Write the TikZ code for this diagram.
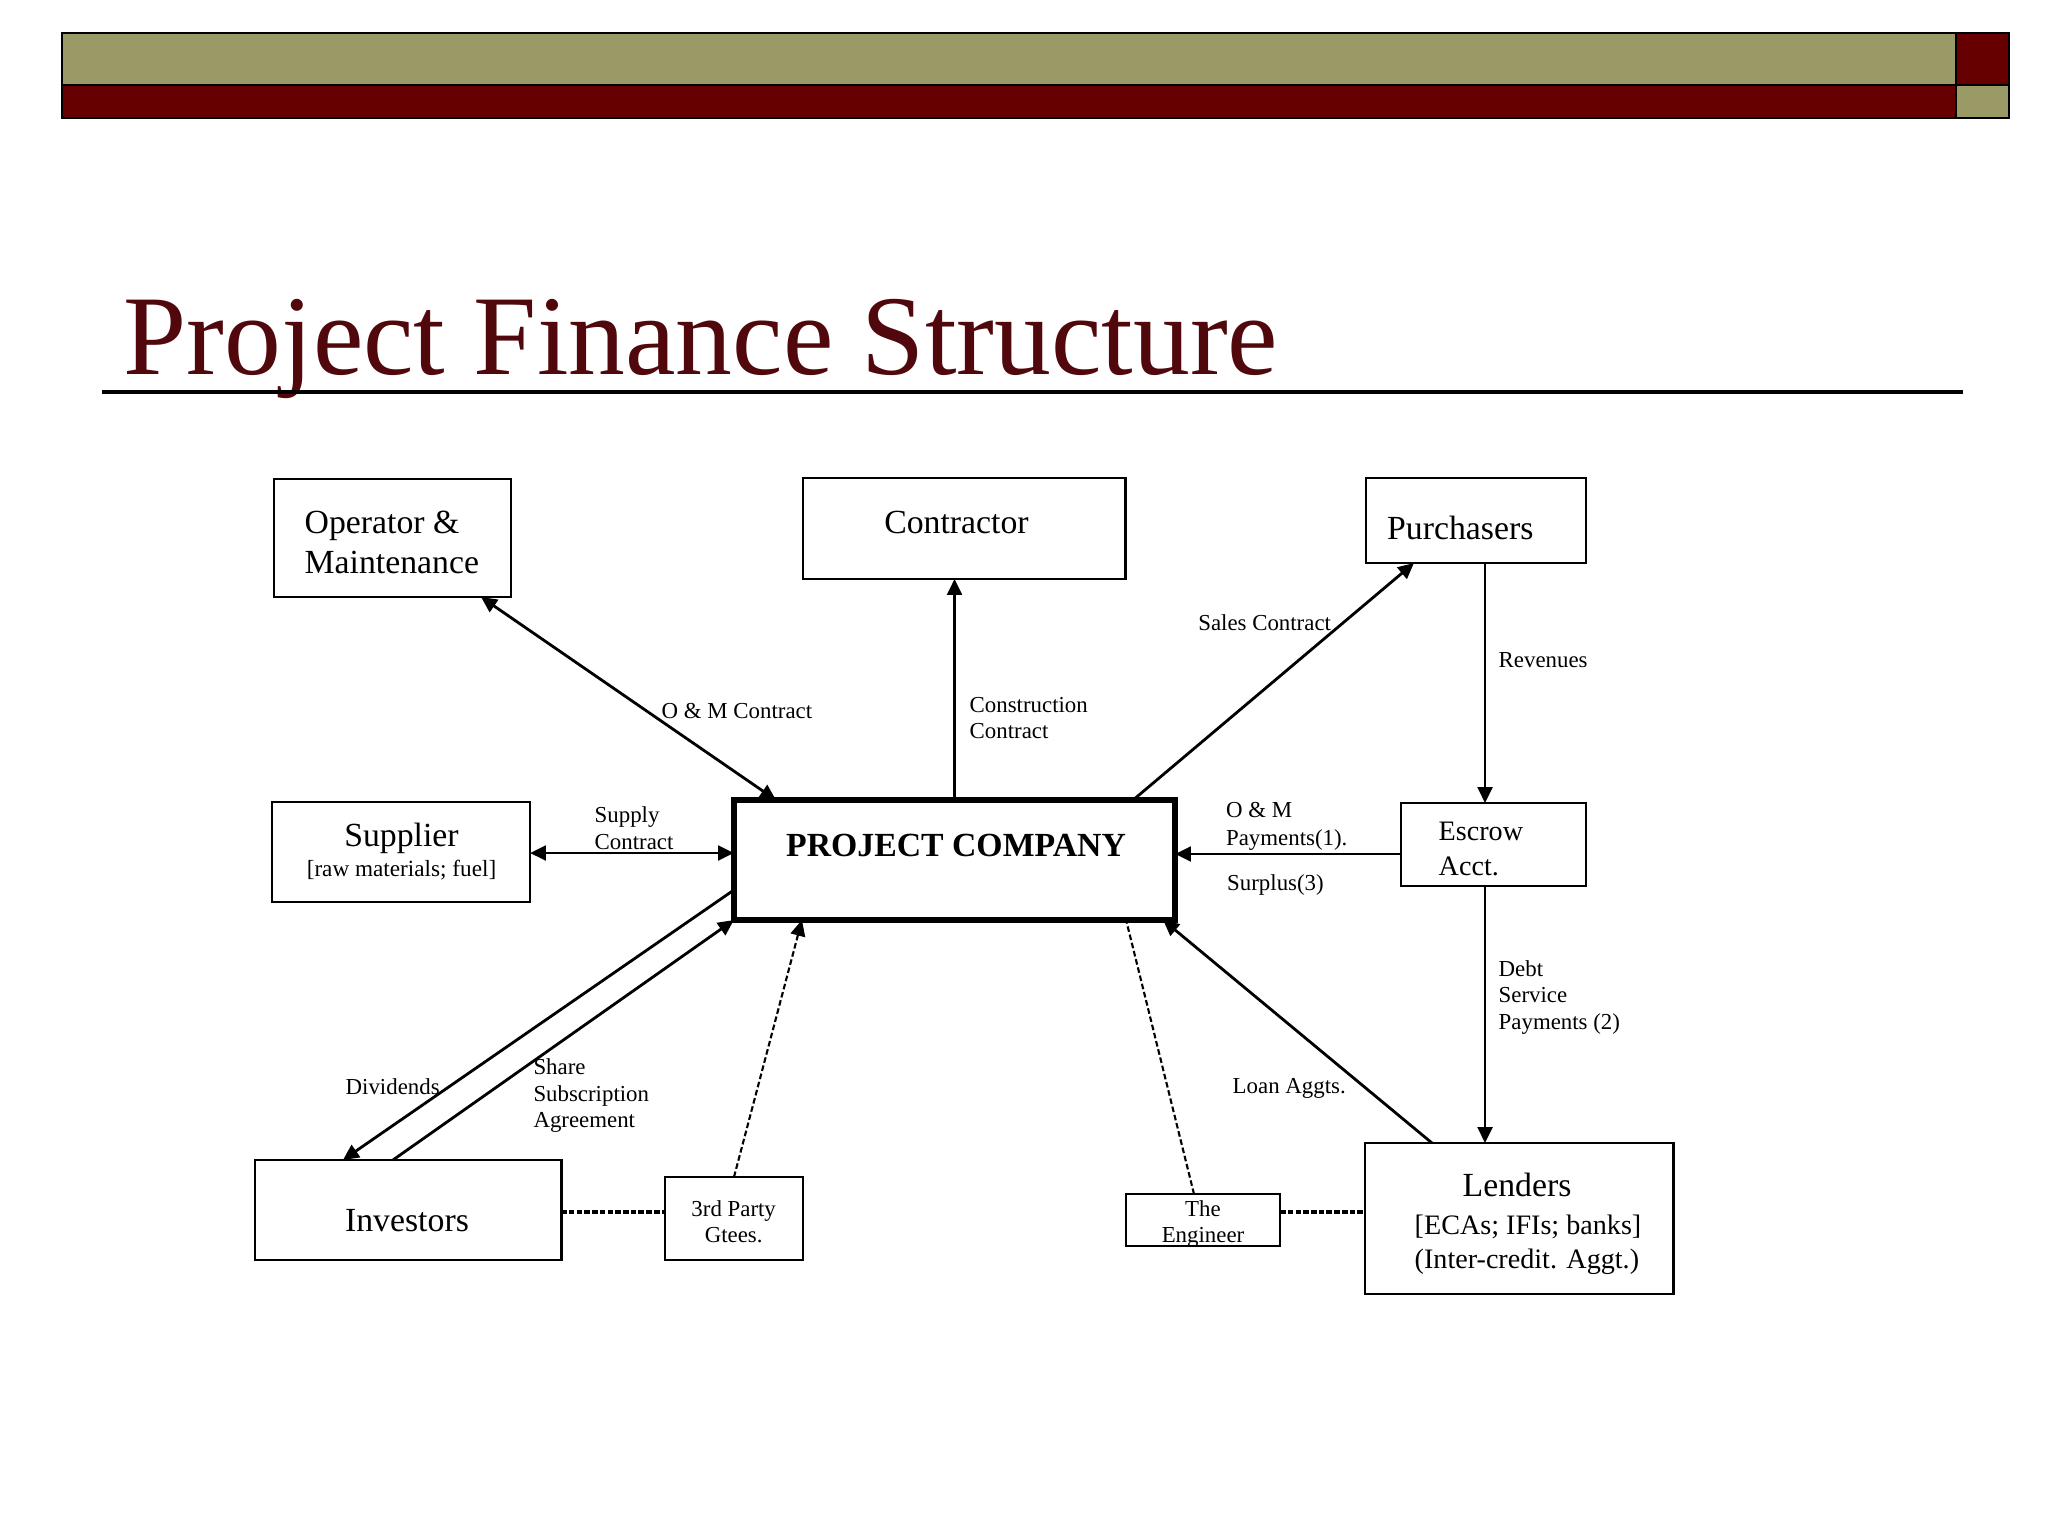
\documentclass[tikz,border=0pt]{standalone}
\usepackage{fontspec}
\setmainfont{Liberation Serif}
\usetikzlibrary{arrows.meta}
\definecolor{barolive}{RGB}{154,154,102}
\definecolor{barmaroon}{RGB}{102,0,0}
\definecolor{titlemaroon}{RGB}{80,8,12}
\begin{document}
\begin{tikzpicture}[x=0.01cm,y=-0.01cm,
  box/.style={draw, line width=0.8pt, inner sep=0pt, outer sep=0pt},
  pcbox/.style={draw, line width=1.6pt, inner sep=0pt, outer sep=0pt},
  big/.style={font=\fontsize{9.6}{11.4}\selectfont, inner sep=0pt},
  bigbold/.style={font=\fontsize{9.6}{11.4}\selectfont\bfseries, inner sep=0pt},
  mid/.style={font=\fontsize{8}{10}\selectfont, inner sep=0pt},
  sm/.style={font=\fontsize{6.5}{7.6}\selectfont, inner sep=0pt},
  tip/.tip={Triangle[length=4.5pt,width=4.2pt]},
  arr/.style={line width=0.8pt, -tip},
  darr/.style={line width=0.8pt, tip-tip},
  dline/.style={line width=0.6pt, dash pattern=on 1.6pt off 0.8pt},
  hdline/.style={line width=1pt, dash pattern=on 1.6pt off 0.6pt},
  titlestyle/.style={font=\fontsize{32.3}{38}\selectfont, text=titlemaroon, inner sep=0pt}
]
\useasboundingbox (0,0) rectangle (2048,1536);

% top bar
\fill[barolive] (62,33) rectangle (1956,85);
\fill[barmaroon] (62,85) rectangle (1956,118);
\fill[barmaroon] (1956,33) rectangle (2009,85);
\fill[barolive] (1956,85) rectangle (2009,118);
\draw[line width=0.8pt] (62,33) rectangle (2009,118);
\draw[line width=0.8pt] (62,85) -- (2009,85);
\draw[line width=0.8pt] (1956,33) -- (1956,118);

% title
\node[titlestyle, anchor=base west] (title) at (123,374) {Project Finance Structure};
\draw[line width=0.9pt] (102,392) -- (1963,392);

% boxes
\node[box, minimum width=2.37cm, minimum height=1.18cm] (op) at (392.5,538) {};
\node[box, minimum width=3.22cm, minimum height=1.01cm] (con) at (964,528.5) {};
\node[box, minimum width=2.20cm, minimum height=0.85cm] (pur) at (1476,520.5) {};
\node[box, minimum width=2.58cm, minimum height=1.00cm] (sup) at (401,852) {};
\node[pcbox, minimum width=4.41cm, minimum height=1.20cm] (pc) at (954.5,860) {};
\node[box, minimum width=1.85cm, minimum height=0.83cm] (esc) at (1493.5,844.5) {};
\node[box, minimum width=3.06cm, minimum height=1.00cm] (inv) at (408,1210) {};
\node[box, minimum width=1.38cm, minimum height=0.83cm] (gte) at (734,1218.5) {};
\node[box, minimum width=1.54cm, minimum height=0.52cm] (eng) at (1203,1220) {};
\node[box, minimum width=3.08cm, minimum height=1.51cm] (len) at (1519,1218.5) {};

% box texts
\node[big, anchor=north west, align=left] (opt) at (304,510) {Operator \&\\Maintenance};
\node[big, anchor=base] (cont) at (956.5,533) {Contractor};
\node[big, anchor=base west] (purt) at (1386.5,539.3) {Purchasers};
\node[big, anchor=base] (supt) at (401.5,846.7) {Supplier};
\node[font=\fontsize{6.6}{7.6}\selectfont, inner sep=0pt, anchor=base] (supt2) at (401.5,876) {[raw materials; fuel]};
\node[bigbold, anchor=base] (pct) at (956,856.7) {PROJECT COMPANY};
\node[mid, anchor=north west, align=left] (esct) at (1438,821) {Escrow\\Acct.};
\node[big, anchor=base] (invt) at (407,1231.7) {Investors};
\node[sm, anchor=north, align=center] (gtet) at (733.7,1199.5) {3rd Party\\Gtees.};
\node[sm, anchor=north, align=center] (engt) at (1203,1199.5) {The\\Engineer};
\node[big, anchor=base] (lent) at (1517,1196.7) {Lenders};
\node[font=\fontsize{8}{9.7}\selectfont, inner sep=0pt, anchor=north west, align=left] (lent2) at (1414,1214) {[ECAs; IFIs; banks]\\(Inter-credit. Aggt.)};

% connectors
\draw[darr] ([xshift=2.07cm]op.south west) -- ([xshift=0.42cm]pc.north west);
\draw[arr] (pc.north) -- (pc.north |- con.south);
\draw[arr] ([xshift=-0.42cm]pc.north east) -- ([xshift=0.48cm]pur.south west);
\coordinate (rv) at ([xshift=0.09cm]pur.south);
\draw[arr] (rv) -- (rv |- esc.north);
\coordinate (om) at ([yshift=-0.095cm]esc.west);
\draw[arr] (om) -- (om -| pc.east);
\coordinate (ds) at ([xshift=-0.085cm]esc.south);
\draw[arr] (ds) -- (ds |- len.north);
\draw[arr] ([xshift=0.67cm]len.north west) -- ([xshift=-0.12cm]pc.south east);
\draw[dline] ([xshift=-0.09cm]eng.north) -- ([xshift=-0.49cm]pc.south east);
\coordinate (el) at ([yshift=0.08cm]eng.east);
\draw[hdline] (el) -- (el -| len.west);
\draw[dline, -tip] (gte.north) -- ([xshift=0.68cm]pc.south west);
\coordinate (ig) at ([yshift=-0.02cm]inv.east);
\draw[hdline] (ig) -- (ig -| gte.west);
\draw[arr] ([yshift=0.3cm]pc.south west) -- ([xshift=0.88cm]inv.north west);
\draw[arr] ([xshift=1.38cm]inv.north west) -- (pc.south west);
\coordinate (sp) at ([yshift=-0.01cm]sup.east);
\draw[darr] (sp) -- (sp -| pc.west);

% connector labels
\node[sm, anchor=base west] (l1) at (661,718.3) {O \& M Contract};
\node[sm, anchor=north west, align=left] (l2) at (969,696.2) {Construction\\Contract};
\node[sm, anchor=base west] (l3) at (1197.6,630) {Sales Contract};
\node[sm, anchor=base west] (l4) at (1498,667) {Revenues};
\node[font=\fontsize{6.5}{8}\selectfont, inner sep=0pt, anchor=north west, align=left] (l5) at (1225.4,801.8) {O \& M\\Payments(1).};
\node[sm, anchor=base west] (l6) at (1226.5,890) {Surplus(3)};
\node[sm, anchor=north west, align=left] (l7) at (1498,959.5) {Debt\\Service\\Payments (2)};
\node[sm, anchor=base west] (l8) at (1232,1093.3) {Loan Aggts.};
\node[sm, anchor=base west] (l9) at (345,1094) {Dividends};
\node[sm, anchor=north west, align=left] (l10) at (532.8,1057.8) {Share\\Subscription\\Agreement};
\node[sm, anchor=north west, align=left] (l11) at (594,806.2) {Supply\\Contract};
\end{tikzpicture}
\end{document}
